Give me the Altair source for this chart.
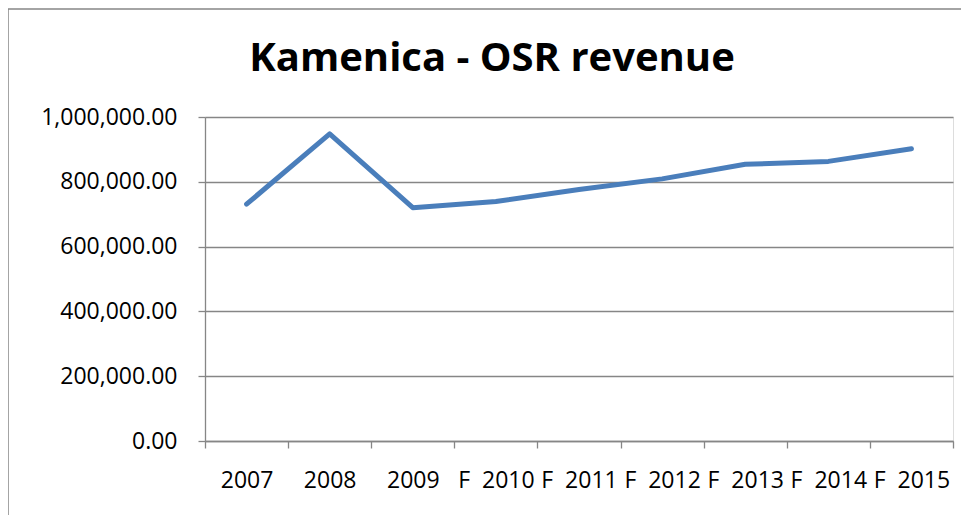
import altair as alt
import pandas as pd

title_text = ["Kamenica - OSR revenue"]
categories = ["2007", "2008", "2009", "F\u00a0\u00a02010", "F\u00a0\u00a02011",
              "F\u00a0\u00a02012", "F\u00a0\u00a02013", "F\u00a0\u00a02014", "F\u00a0\u00a02015"]
revenue = [731000, 948000, 720000, 739000, 776000, 809000, 854000, 863000, 902000]
y_ticks = [0, 200000, 400000, 600000, 800000, 1000000]

df = pd.DataFrame({"year": categories, "revenue": revenue})
tdf = pd.DataFrame({"t": title_text})

GRAY = "#868686"
FONT = "Open Sans"

line = alt.Chart(df).mark_line(
    color="#4A7EBB", strokeWidth=5, strokeCap="round", strokeJoin="round"
).encode(
    x=alt.X("year:N", sort=categories, title=None,
            scale=alt.Scale(type="band", paddingInner=0, paddingOuter=0),
            axis=alt.Axis(labelAngle=0, tickBand="extent", tickSize=7, tickColor=GRAY,
                          tickWidth=1.3, domainColor=GRAY, domainWidth=1.3, grid=False,
                          labelFont=FONT, labelFontSize=23, labelColor="black",
                          labelPadding=21)),
    y=alt.Y("revenue:Q", title=None,
            scale=alt.Scale(domain=[0, 1000000], nice=False),
            axis=alt.Axis(values=y_ticks, format=",.2f", tickSize=7, tickColor=GRAY,
                          tickWidth=1.3, domainColor=GRAY, domainWidth=1.3,
                          grid=True, gridColor=GRAY, gridWidth=1.3,
                          labelFont=FONT, labelFontSize=23, labelColor="black",
                          labelPadding=21)),
)

frame_left = alt.Chart(tdf).mark_rule(color=GRAY, strokeWidth=1.5).encode(
    x=alt.value(-197), y=alt.value(-108), y2=alt.value(420))
frame_top = alt.Chart(tdf).mark_rule(color=GRAY, strokeWidth=1.5).encode(
    x=alt.value(-197), x2=alt.value(770), y=alt.value(-108))

title = alt.Chart(tdf).mark_text(
    font=FONT, fontSize=40, fontWeight="bold", color="black",
    align="center", baseline="alphabetic"
).encode(text="t:N", x=alt.value(287), y=alt.value(-46))

chart = alt.layer(frame_left, frame_top, title, line).properties(
    width=748, height=324,
    autosize=alt.AutoSizeParams(type="none"),
    padding={"left": 197, "top": 109, "right": 8, "bottom": 74},
).configure_view(stroke=None).configure(background="white")

chart.save("out.html", embed_options={"renderer": "svg", "actions": False})
